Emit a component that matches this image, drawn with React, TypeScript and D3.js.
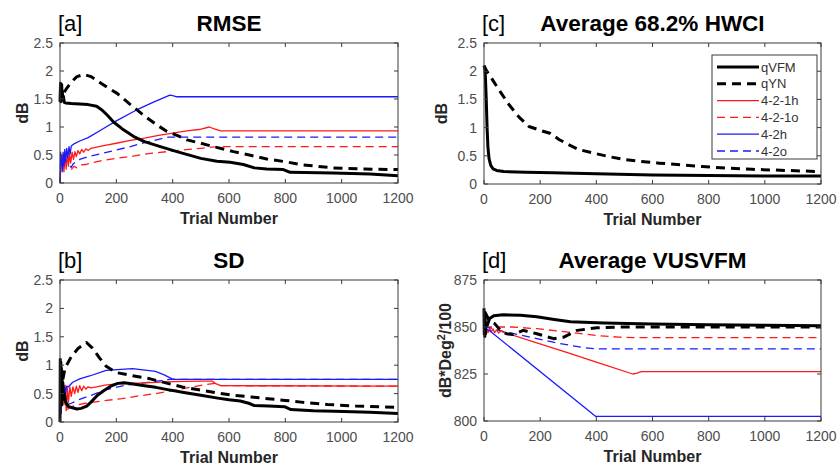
import React, { useEffect, useRef } from 'react';
import * as d3 from 'd3';

type Pt = [number, number];

// ---- tick labels / categories ----
const xTicks = [0, 200, 400, 600, 800, 1000, 1200];
const dbTicks = [0, 0.5, 1, 1.5, 2, 2.5];
const vusTicks = [800, 825, 850, 875];
const seriesNames = ['qVFM', 'qYN', '4-2-1h', '4-2-1o', '4-2h', '4-2o'];

// ---- [a] RMSE ----
const rmseQvfm: Pt[] = [[0,1.45],[2,1.78],[3,1.45],[4,1.72],[5,1.5],[6,1.76],[7,1.48],[8,1.65],[10,1.5],[12,1.55],[15,1.44],[20,1.43],[40,1.42],[70,1.41],[100,1.4],[130,1.37],[150,1.3],[170,1.2],[190,1.09],[220,0.97],[262,0.83],[300,0.74],[356,0.65],[415,0.56],[500,0.44],[557,0.39],[604,0.37],[651,0.33],[690,0.27],[734,0.25],[793,0.24],[817,0.19],[970,0.18],[1100,0.16],[1200,0.13]];
const rmseQyn: Pt[] = [[15,1.62],[25,1.7],[40,1.8],[60,1.9],[85,1.94],[110,1.9],[140,1.8],[170,1.7],[203,1.6],[250,1.4],[297,1.21],[340,1.05],[380,0.92],[420,0.84],[451,0.77],[500,0.71],[545,0.65],[616,0.56],[680,0.49],[734,0.43],[800,0.38],[852,0.33],[910,0.3],[970,0.27],[1080,0.25],[1200,0.24]];
const rmse421h: Pt[] = [[0,0],[3,0.3],[6,0.5],[10,0.45],[14,0.2],[18,0.5],[22,0.25],[26,0.52],[30,0.3],[34,0.53],[38,0.36],[43,0.55],[48,0.42],[53,0.56],[58,0.47],[64,0.58],[70,0.52],[77,0.6],[84,0.55],[92,0.61],[100,0.58],[110,0.62],[130,0.64],[160,0.67],[200,0.71],[250,0.76],[300,0.8],[350,0.85],[400,0.89],[450,0.93],[500,0.96],[530,1.0],[545,0.97],[570,0.93],[1200,0.93]];
const rmse421o: Pt[] = [[40,0.24],[50,0.3],[60,0.27],[70,0.32],[90,0.33],[120,0.37],[160,0.41],[200,0.44],[260,0.48],[320,0.53],[400,0.57],[500,0.62],[540,0.64],[560,0.65],[1200,0.65]];
const rmse42h: Pt[] = [[0,0],[2,0.55],[5,0.4],[8,0.2],[11,0.55],[14,0.3],[17,0.6],[20,0.38],[24,0.62],[28,0.45],[32,0.65],[36,0.52],[40,0.66],[50,0.7],[70,0.75],[100,0.81],[150,0.96],[200,1.11],[270,1.3],[330,1.44],[390,1.57],[400,1.56],[415,1.54],[1200,1.54]];
const rmse42o: Pt[] = [[35,0.3],[40,0.28],[45,0.33],[55,0.38],[70,0.42],[100,0.47],[150,0.53],[200,0.59],[250,0.65],[300,0.72],[350,0.78],[385,0.82],[1200,0.82]];

// ---- [b] SD ----
const sdQvfm: Pt[] = [[0,0],[1,1.1],[2,0.4],[3,1.05],[4,0.5],[5,0.95],[6,0.3],[7,0.85],[8,0.45],[10,0.7],[12,0.4],[15,0.5],[20,0.35],[30,0.27],[44,0.25],[60,0.23],[75,0.24],[95,0.28],[110,0.35],[133,0.47],[155,0.55],[180,0.63],[205,0.68],[228,0.69],[260,0.67],[300,0.64],[340,0.61],[382,0.57],[440,0.52],[500,0.47],[560,0.42],[600,0.39],[640,0.37],[670,0.33],[690,0.29],[740,0.28],[797,0.27],[820,0.22],[900,0.2],[975,0.19],[1100,0.17],[1200,0.15]];
const sdQyn: Pt[] = [[10,0.75],[18,0.95],[40,1.15],[65,1.3],[94,1.4],[115,1.3],[140,1.13],[164,0.98],[200,0.87],[263,0.81],[320,0.76],[382,0.68],[440,0.61],[500,0.56],[560,0.51],[619,0.47],[680,0.44],[738,0.41],[800,0.38],[856,0.35],[950,0.31],[1050,0.28],[1200,0.26]];
const sd421h: Pt[] = [[0,0],[4,0.4],[10,0.6],[14,0.3],[18,0.65],[22,0.2],[26,0.6],[30,0.35],[35,0.62],[40,0.45],[46,0.62],[52,0.5],[58,0.63],[64,0.52],[70,0.64],[77,0.55],[84,0.63],[92,0.58],[100,0.62],[110,0.6],[130,0.62],[160,0.65],[200,0.67],[250,0.68],[300,0.69],[400,0.71],[500,0.72],[540,0.72],[555,0.67],[570,0.64],[1200,0.63]];
const sd421o: Pt[] = [[25,0.22],[40,0.27],[60,0.3],[90,0.33],[120,0.35],[164,0.38],[220,0.41],[280,0.46],[340,0.5],[400,0.55],[460,0.61],[520,0.66],[550,0.68],[570,0.64],[1200,0.63]];
const sd42h: Pt[] = [[0,0],[2,0.55],[4,0.15],[6,0.6],[8,0.3],[10,0.6],[13,0.4],[16,0.63],[20,0.5],[24,0.63],[30,0.62],[45,0.7],[70,0.76],[105,0.81],[164,0.91],[257,0.94],[339,0.89],[370,0.83],[398,0.76],[410,0.75],[1200,0.75]];
const sd42o: Pt[] = [[25,0.3],[40,0.33],[70,0.4],[105,0.46],[164,0.57],[234,0.65],[300,0.69],[360,0.73],[390,0.75],[1200,0.75]];

// ---- [c] Average 68.2% HWCI ----
const hwciQvfm: Pt[] = [[0,2.1],[3,2.05],[5,1.9],[8,1.5],[11,1.0],[14,0.65],[18,0.45],[24,0.33],[32,0.27],[45,0.24],[70,0.22],[150,0.21],[243,0.2],[400,0.18],[600,0.16],[800,0.15],[1000,0.14],[1200,0.14]];
const hwciQyn: Pt[] = [[0,2.1],[10,2.0],[30,1.85],[60,1.62],[90,1.4],[124,1.19],[160,1.02],[207,0.94],[235,0.9],[267,0.79],[300,0.7],[338,0.61],[397,0.54],[450,0.48],[504,0.43],[560,0.4],[623,0.37],[700,0.34],[777,0.31],[870,0.28],[954,0.26],[1080,0.24],[1200,0.22]];

// ---- [d] Average VUSVFM ----
const vusQvfm: Pt[] = [[0,860],[1,846],[2,858],[3,845],[4,857],[5,846],[7,852],[12,851],[20,854.5],[35,856],[68,856.5],[130,856.2],[188,855.4],[250,854],[308,852.8],[428,852.1],[600,851.6],[800,851.2],[1000,850.9],[1200,850.7]];
const vusQyn: Pt[] = [[3,858],[10,856],[20,853],[38,851.8],[60,848],[80,846.4],[104,846],[140,848.2],[188,846.4],[248,843.8],[284,844.6],[332,848.2],[403,849.6],[500,850],[1200,850]];
const vus421h: Pt[] = [[0,850],[8,849],[14,847],[20,849],[26,847.5],[32,849],[38,847],[45,848.5],[52,846.8],[60,848],[68,847.3],[188,841.5],[300,836.2],[400,831.3],[530,825],[545,825.5],[560,826.3],[1200,826.3]];
const vus421o: Pt[] = [[0,850],[100,850],[188,849.1],[300,847.3],[400,845.5],[480,844.6],[540,844.3],[1200,844.3]];
const vus42h: Pt[] = [[0,850],[10,848.8],[20,848],[397,802.5],[1200,802.5]];
const vus42o: Pt[] = [[0,850],[30,849.2],[68,847.7],[120,846],[188,843.8],[250,841.8],[308,840.2],[360,838.9],[400,838.4],[1200,838.4]];

const seriesStyle: Record<string, { color: string; width: number; dash: string | null }> = {
  'qVFM': { color: '#000', width: 3, dash: null },
  'qYN': { color: '#000', width: 3, dash: '9,6' },
  '4-2-1h': { color: '#ff1a1a', width: 1.3, dash: null },
  '4-2-1o': { color: '#ff1a1a', width: 1.3, dash: '8,5' },
  '4-2h': { color: '#1a1aff', width: 1.3, dash: null },
  '4-2o': { color: '#1a1aff', width: 1.3, dash: '8,5' },
};

const FONT = '"Liberation Sans", Arial, sans-serif';

const panels = [
  { tag: '[a]', title: 'RMSE', ylabel: 'dB', left: 60, right: 398, top: 43, bottom: 183, yDomain: [0, 2.5], yTicks: dbTicks, ylabOff: 32,
    series: { '4-2-1o': rmse421o, '4-2o': rmse42o, '4-2-1h': rmse421h, '4-2h': rmse42h, 'qYN': rmseQyn, 'qVFM': rmseQvfm } },
  { tag: '[b]', title: 'SD', ylabel: 'dB', left: 60, right: 398, top: 280, bottom: 422, yDomain: [0, 2.5], yTicks: dbTicks, ylabOff: 32,
    series: { '4-2-1o': sd421o, '4-2o': sd42o, '4-2-1h': sd421h, '4-2h': sd42h, 'qYN': sdQyn, 'qVFM': sdQvfm } },
  { tag: '[c]', title: 'Average 68.2% HWCI', ylabel: 'dB', left: 484, right: 821, top: 43, bottom: 184, yDomain: [0, 2.5], yTicks: dbTicks, ylabOff: 37,
    series: { 'qYN': hwciQyn, 'qVFM': hwciQvfm }, legend: true },
  { tag: '[d]', title: 'Average VUSVFM', ylabel: 'dB*Deg', left: 484, right: 821, top: 280, bottom: 421, yDomain: [800, 875], yTicks: vusTicks, ylabOff: 33,
    series: { '4-2-1o': vus421o, '4-2o': vus42o, '4-2-1h': vus421h, '4-2h': vus42h, 'qYN': vusQyn, 'qVFM': vusQvfm } },
];

export default function App() {
  const ref = useRef<SVGSVGElement>(null);

  useEffect(() => {
    const svg = d3.select(ref.current);
    svg.selectAll('*').remove();

    panels.forEach((p) => {
      const x = d3.scaleLinear().domain([0, 1200]).range([p.left, p.right]);
      const y = d3.scaleLinear().domain(p.yDomain).range([p.bottom, p.top]);
      const g = svg.append('g');
      const cx = (p.left + p.right) / 2;
      const cy = (p.top + p.bottom) / 2;

      // lines
      const line = d3.line<Pt>().x((d) => x(d[0])).y((d) => y(d[1]));
      Object.entries(p.series).forEach(([name, data]) => {
        const s = seriesStyle[name];
        g.append('path')
          .attr('d', line(data as Pt[]))
          .attr('fill', 'none')
          .attr('stroke', s.color)
          .attr('stroke-width', s.width)
          .attr('stroke-dasharray', s.dash)
          .attr('stroke-linejoin', 'round');
      });

      // box
      g.append('rect')
        .attr('x', p.left).attr('y', p.top)
        .attr('width', p.right - p.left).attr('height', p.bottom - p.top)
        .attr('fill', 'none').attr('stroke', '#3a3a3a').attr('stroke-width', 1);

      // ticks (inside, mirrored)
      xTicks.forEach((t) => {
        g.append('line').attr('x1', x(t)).attr('x2', x(t)).attr('y1', p.bottom).attr('y2', p.bottom - 4).attr('stroke', '#3a3a3a');
        g.append('line').attr('x1', x(t)).attr('x2', x(t)).attr('y1', p.top).attr('y2', p.top + 4).attr('stroke', '#3a3a3a');
        g.append('text').attr('x', x(t)).attr('y', p.bottom + 20).attr('text-anchor', 'middle')
          .attr('font-family', FONT).attr('font-size', 14).attr('fill', '#4d4d4d').text(String(t));
      });
      p.yTicks.forEach((t) => {
        g.append('line').attr('x1', p.left).attr('x2', p.left + 4).attr('y1', y(t)).attr('y2', y(t)).attr('stroke', '#3a3a3a');
        g.append('line').attr('x1', p.right).attr('x2', p.right - 4).attr('y1', y(t)).attr('y2', y(t)).attr('stroke', '#3a3a3a');
        g.append('text').attr('x', p.left - 7).attr('y', y(t)).attr('dy', '0.36em').attr('text-anchor', 'end')
          .attr('font-family', FONT).attr('font-size', 14).attr('fill', '#4d4d4d').text(String(t));
      });

      // labels
      g.append('text').attr('x', cx).attr('y', p.top - 12).attr('text-anchor', 'middle')
        .attr('font-family', FONT).attr('font-size', 22.5).attr('font-weight', 'bold').attr('fill', '#000').text(p.title);
      g.append('text').attr('x', p.left - 2).attr('y', p.top - 12)
        .attr('font-family', FONT).attr('font-size', 22).attr('fill', '#000').text(p.tag);
      g.append('text').attr('x', cx).attr('y', p.bottom + 41).attr('text-anchor', 'middle')
        .attr('font-family', FONT).attr('font-size', 16).attr('font-weight', 'bold').attr('fill', '#262626').text('Trial Number');
      const yl = g.append('text')
        .attr('transform', `translate(${p.left - p.ylabOff},${cy}) rotate(-90)`)
        .attr('text-anchor', 'middle')
        .attr('font-family', FONT).attr('font-size', 16).attr('font-weight', 'bold').attr('fill', '#262626');
      yl.append('tspan').text(p.ylabel);
      if (p.ylabel === 'dB*Deg') {
        yl.append('tspan').attr('dy', -6).attr('font-size', 11).text('2');
        yl.append('tspan').attr('dy', 6).text('/100');
      }

      // legend
      if (p.legend) {
        const lx = 712, ly = 55, lw = 105, lh = 104;
        const lg = g.append('g');
        lg.append('rect').attr('x', lx).attr('y', ly).attr('width', lw).attr('height', lh)
          .attr('fill', '#fff').attr('stroke', '#3a3a3a').attr('stroke-width', 1);
        seriesNames.forEach((name, i) => {
          const s = seriesStyle[name];
          const yy = ly + 12 + i * 16.8;
          lg.append('line').attr('x1', lx + 5).attr('x2', lx + 47).attr('y1', yy).attr('y2', yy)
            .attr('stroke', s.color).attr('stroke-width', s.width).attr('stroke-dasharray', s.dash);
          lg.append('text').attr('x', lx + 49).attr('y', yy).attr('dy', '0.36em')
            .attr('font-family', FONT).attr('font-size', 13).attr('fill', '#333').text(name);
        });
      }
    });
  }, []);

  return (
    <svg ref={ref} width={838} height={466} style={{ position: 'absolute', left: 0, top: 0, background: '#fff' }} />
  );
}
